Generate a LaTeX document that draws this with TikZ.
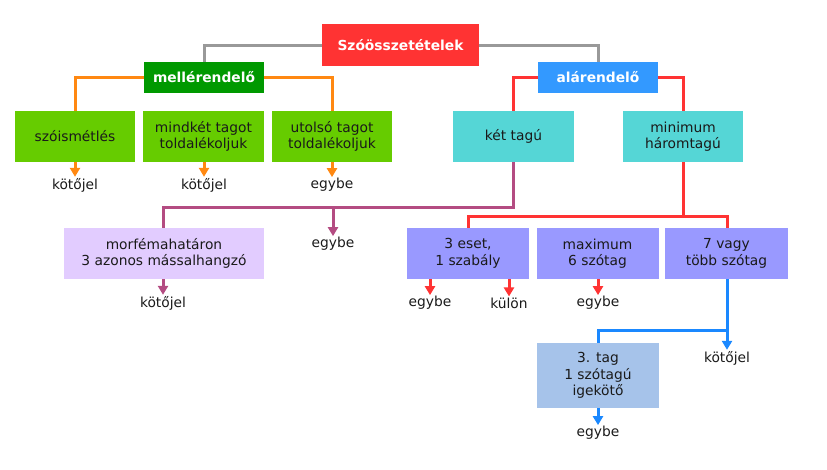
\documentclass[tikz,border=0pt]{standalone}
\usepackage{fontspec}
\setmainfont{DejaVu Sans}
\usetikzlibrary{arrows.meta}
\definecolor{rootred}{HTML}{FF3333}
\definecolor{mgreen}{HTML}{009900}
\definecolor{ablue}{HTML}{3399FF}
\definecolor{lgreen}{HTML}{66CC00}
\definecolor{cyanb}{HTML}{55D6D6}
\definecolor{lav}{HTML}{E2CCFF}
\definecolor{peri}{HTML}{9999FF}
\definecolor{lblue}{HTML}{A6C3EA}
\definecolor{orangel}{HTML}{FF8811}
\definecolor{grayl}{HTML}{999999}
\definecolor{redl}{HTML}{FF3333}
\definecolor{purpl}{HTML}{B44C82}
\definecolor{bluel}{HTML}{1A88FF}
\definecolor{txt}{HTML}{1A1A1A}
\begin{document}
\begin{tikzpicture}[x=1pt,y=-1pt,
  box/.style={draw=none,inner sep=0pt,align=center,text=txt,font=\fontsize{13.8}{16.5}\selectfont},
  head/.style={box,text=white,font=\fontsize{13.8}{16.5}\selectfont\bfseries,minimum width=120pt,minimum height=31pt},
  lbl/.style={inner sep=1pt,text=txt,font=\fontsize{13.8}{16.5}\selectfont},
  conn/.style={line width=3pt},
  arr/.style={line width=3pt,-{Triangle[width=10pt,length=9pt]}}]
\useasboundingbox (0,0) rectangle (827,469);
% header nodes
\node[head,fill=rootred,minimum width=157pt,minimum height=42pt] (root) at (400.5,45) {Szóösszetételek};
\node[head,fill=mgreen] (mell) at (204,77.5) {mellérendelő};
\node[head,fill=ablue] (alar) at (598,77.5) {alárendelő};
% level 2
\node[box,fill=lgreen,minimum width=120pt,minimum height=51pt] (szo) at (75,136.5) {szóismétlés};
\node[box,fill=lgreen,minimum width=121pt,minimum height=51pt] (mind) at (203.5,136.5) {mindkét tagot\\toldalékoljuk};
\node[box,fill=lgreen,minimum width=120pt,minimum height=51pt] (utol) at (332,136.5) {utolsó tagot\\toldalékoljuk};
\node[box,fill=cyanb,minimum width=121pt,minimum height=51pt] (ket) at (513.5,136.5) {két tagú};
\node[box,fill=cyanb,minimum width=120pt,minimum height=51pt] (minh) at (683,136.5) {minimum\\háromtagú};
% labels level 2
\node[lbl] (k1) at (75,185) {kötőjel};
\node[lbl] (k2) at (204,185) {kötőjel};
\node[lbl] (e3) at (332,185) {egybe};
% level 3
\node[box,fill=lav,minimum width=200pt,minimum height=51pt] (morf) at (164,253.5) {morfémahatáron\\3 azonos mássalhangzó};
\node[lbl] (e4) at (333,244) {egybe};
\node[box,fill=peri,minimum width=122pt,minimum height=51pt] (eset) at (468,253.5) {3 eset,\\1 szabály};
\node[box,fill=peri,minimum width=122pt,minimum height=51pt] (maxi) at (597.5,253.5) {maximum\\6 szótag};
\node[box,fill=peri,minimum width=123pt,minimum height=51pt] (hetv) at (726.5,253.5) {7 vagy\\több szótag};
\node[lbl] (k4) at (163,303) {kötőjel};
\node[lbl] (e5) at (430,303) {egybe};
\node[lbl] (ku) at (509,303) {külön};
\node[lbl] (e6) at (598,303) {egybe};
% level 4
\node[box,fill=lblue,minimum width=122pt,minimum height=65pt] (tag3) at (598,375.5) {3. tag\\1 szótagú\\igekötő};
\node[lbl] (k5) at (727,358) {kötőjel};
\node[lbl] (e7) at (598,433) {egybe};
% coordinates
\coordinate (pj) at (513.5,207);
\coordinate (pe) at (333,207);
\coordinate (rj) at (683,216);
\coordinate (bj) at (727,330);
% connectors
\draw[conn,grayl] (root.west) -| (mell.north);
\draw[conn,grayl] (root.east) -| (alar.north);
\draw[conn,orangel] (mell.west) -| (szo.north);
\draw[conn,orangel] (mell.east) -| (utol.north);
\draw[conn,redl] (alar.west) -| (ket.north);
\draw[conn,redl] (alar.east) -| (minh.north);
\draw[arr,orangel] (szo.south) -- (k1.north);
\draw[arr,orangel] (mind.south -| k2.north) -- (k2.north);
\draw[arr,orangel] (utol.south) -- (e3.north);
\draw[conn,purpl] (ket.south) -- (pj) -| (morf.north -| k4.north);
\draw[arr,purpl] (pe) -- (e4.north);
\draw[arr,purpl] (morf.south -| k4.north) -- (k4.north);
\draw[conn,redl] (minh.south) -- (rj);
\draw[conn,redl] (eset.north) |- (rj);
\draw[conn,redl] (hetv.north -| bj) |- (rj);
\draw[conn,redl] (maxi.north -| e6.north) -- (maxi.north -| e6.north |- rj);
\draw[arr,redl] (eset.south -| e5.north) -- (e5.north);
\draw[arr,redl] (eset.south -| ku.north) -- (ku.north);
\draw[arr,redl] (maxi.south -| e6.north) -- (e6.north);
\draw[conn,bluel] (hetv.south -| bj) -- (bj) -| (tag3.north);
\draw[arr,bluel] (bj) -- (k5.north);
\draw[arr,bluel] (tag3.south) -- (e7.north);
\end{tikzpicture}
\end{document}
